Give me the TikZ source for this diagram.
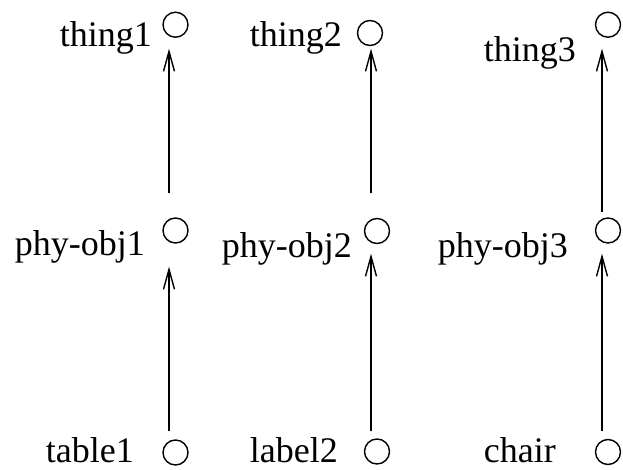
\documentclass[tikz,border=0pt]{standalone}
\usepackage{fontspec}
\setmainfont{Liberation Serif}
\usetikzlibrary{arrows.meta}
\tikzset{
  obj/.style={circle, draw, line width=1.4pt, minimum size=25pt, inner sep=0pt},
  lbl/.style={anchor=base east, inner sep=0pt, font=\fontsize{36}{40}\selectfont},
  isa/.style={line width=1.4pt, -{Straight Barb[length=20pt, width=11pt, line width=1.4pt]}}
}
\begin{document}
\begin{tikzpicture}[x=1pt, y=-1pt]
\useasboundingbox (0,0) rectangle (623,470);

\node[obj](top1) at (175.5, 24.7) {};
\node[obj](top2) at (370, 33) {};
\node[obj](top3) at (608, 24.7) {};
\node[obj](mid1) at (175.5, 230.5) {};
\node[obj](mid2) at (377, 231) {};
\node[obj](mid3) at (608, 230.5) {};
\node[obj](bot1) at (175.5, 452.5) {};
\node[obj](bot2) at (377, 451.5) {};
\node[obj](bot3) at (608, 452) {};

\node[lbl](thing1) at (152, 47) {thing1};
\node[lbl](thing2) at (342, 47) {thing2};
\node[lbl](thing3) at (576, 62) {thing3};
\node[lbl](phy1) at (145, 255) {phy-obj1};
\node[lbl](phy2) at (352, 257) {phy-obj2};
\node[lbl](phy3) at (568, 257) {phy-obj3};
\node[lbl](table1) at (134, 462) {table1};
\node[lbl](label2) at (338, 462) {label2};
\node[lbl](chair) at (556, 462) {chair};

% x of the arrow lines
\coordinate (a1) at (169, 0);
\coordinate (a2) at (371, 0);
\coordinate (a3) at (602, 0);

\draw[isa, shorten <=24pt, shorten >=10.8pt] (a1 |- mid1.north) -- (a1 |- top1.south);
\draw[isa, shorten <=8pt, shorten >=23pt] (a1 |- bot1.north) -- (a1 |- mid1.south);
\draw[isa, shorten <=24.5pt, shorten >=2.5pt] (a2 |- mid2.north) -- (a2 |- top2.south);
\draw[isa, shorten <=7pt, shorten >=9.5pt] (a2 |- bot2.north) -- (a2 |- mid2.south);
\draw[isa, shorten <=5pt, shorten >=10.8pt] (a3 |- mid3.north) -- (a3 |- top3.south);
\draw[isa, shorten <=7.5pt, shorten >=10pt] (a3 |- bot3.north) -- (a3 |- mid3.south);

\end{tikzpicture}
\end{document}
